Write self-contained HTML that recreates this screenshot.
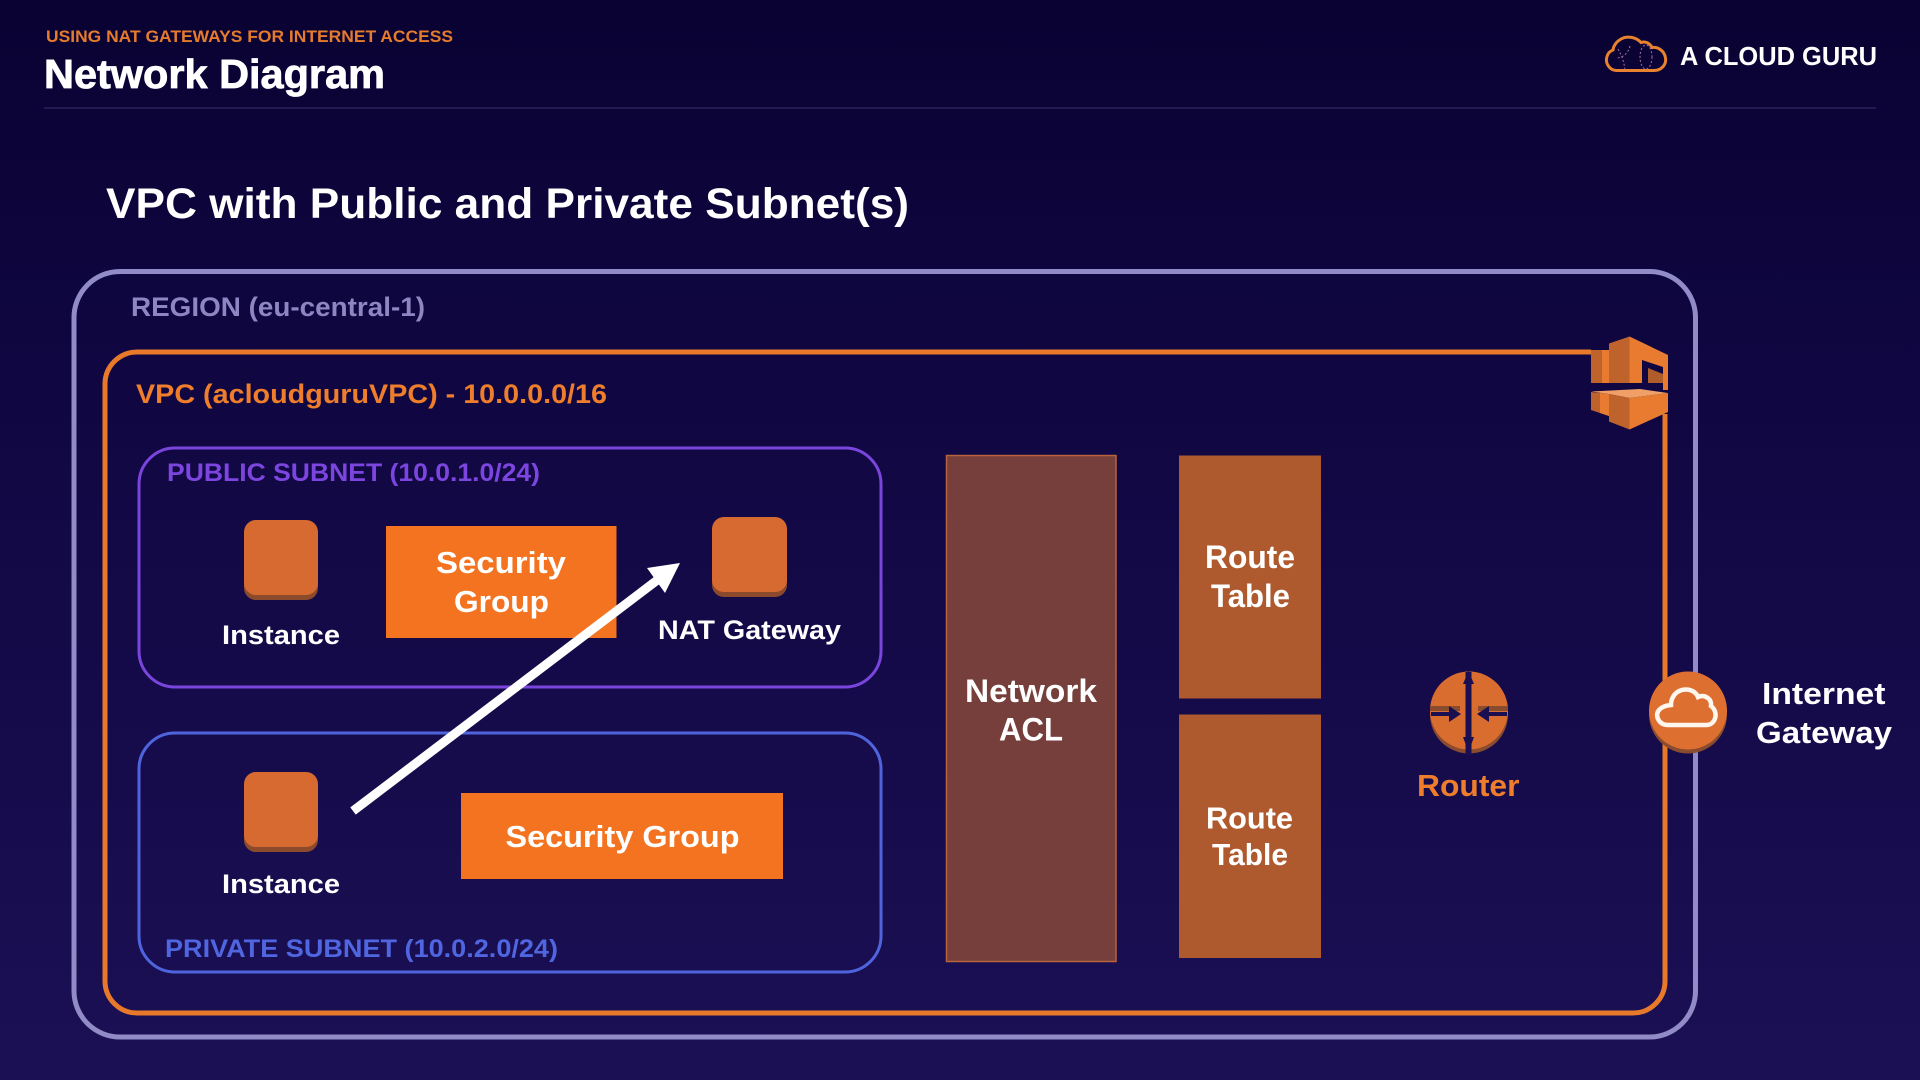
<!DOCTYPE html>
<html lang="en">
<head>
<meta charset="utf-8">
<title>Network Diagram</title>
<style>
html,body{margin:0;padding:0;width:1920px;height:1080px;overflow:hidden;background:#130a45}
svg{display:block;position:absolute;left:0;top:0}
text{font-family:"Liberation Sans",Arial,sans-serif;font-weight:700}
</style>
</head>
<body>
<svg width="1920" height="1080" viewBox="0 0 1920 1080" xmlns="http://www.w3.org/2000/svg">
<defs>
<linearGradient id="bg" gradientUnits="userSpaceOnUse" x1="0" y1="0" x2="0" y2="1080">
<stop offset="0" stop-color="#0a0232"/>
<stop offset="0.3" stop-color="#0f0640"/>
<stop offset="1" stop-color="#1b1054"/>
</linearGradient>
</defs>
<rect width="1920" height="1080" fill="url(#bg)"/>

<!-- header -->
<text x="46" y="42" font-size="16.5" fill="#e57b2c" textLength="407" lengthAdjust="spacingAndGlyphs">USING NAT GATEWAYS FOR INTERNET ACCESS</text>
<text x="44" y="88" font-size="41" fill="#ffffff" stroke="#ffffff" stroke-width="0.8" textLength="341" lengthAdjust="spacingAndGlyphs">Network Diagram</text>
<rect x="44" y="107" width="1832" height="2" fill="#221a52"/>
<path d="M1617 70.5H1654C1662 70.5 1666.500 64 1665.500 58C1664.500 51 1658 46.500 1652 47.500C1650 43 1645 41 1641 42.500C1636 37 1627 35.500 1621 39C1616 42 1613.500 46 1613 50C1607 52 1605 60 1607.500 64.500C1609.500 68.500 1612.500 70.500 1617 70.500Z" fill="none" stroke="#e8822e" stroke-width="3"/>
<g fill="none" stroke="#a8709a" stroke-width="1" stroke-dasharray="2 2">
<path d="M1618 49C1622 56 1624 62 1625 70M1630 46C1628 54 1622 58 1616 58"/>
<ellipse cx="1646" cy="57" rx="6" ry="12"/>
</g>
<text x="1680" y="65" font-size="26" fill="#ffffff" textLength="197" lengthAdjust="spacingAndGlyphs">A CLOUD GURU</text>

<text x="106" y="218" font-size="43" fill="#ffffff" textLength="803" lengthAdjust="spacingAndGlyphs">VPC with Public and Private Subnet(s)</text>

<!-- region -->
<rect x="74" y="271.500" width="1621.500" height="765.500" rx="46" fill="none" stroke="#918bc8" stroke-width="5"/>
<text x="131" y="316" font-size="27" fill="#8d86c2" textLength="294" lengthAdjust="spacingAndGlyphs">REGION (eu-central-1)</text>

<!-- vpc -->
<rect x="105" y="352" width="1560" height="661" rx="32" fill="none" stroke="#e8792a" stroke-width="5"/>
<text x="136" y="403" font-size="27" fill="#ee7d2c" textLength="471" lengthAdjust="spacingAndGlyphs">VPC (acloudguruVPC) - 10.0.0.0/16</text>

<!-- vpc icon -->
<g>
<rect x="1591" y="346" width="78" height="68" fill="url(#bg)"/>
<polygon points="1591,350 1609,350 1609,383 1591,383" fill="#bf632c"/>
<polygon points="1602,350 1609,350 1609,383 1602,383" fill="#e87b30"/>
<polygon points="1609,343.500 1629.500,336.500 1629.500,383 1609,383" fill="#bf632c"/>
<polygon points="1629.500,336.500 1668,355 1668,390 1663,390 1663,367 1642,360 1642,383 1629.500,383" fill="#e87b30"/>
<polygon points="1648,368 1663,374 1663,383 1648,383" fill="#b05d2b"/>
<polygon points="1591,391.500 1640,389 1668,393 1629.500,398 1609,394" fill="#f0a066"/>
<polygon points="1591,392 1609,394 1609,416 1600,413 1591,410" fill="#bf632c"/>
<polygon points="1600,393 1609,394 1609,416 1600,413" fill="#e87b30"/>
<polygon points="1609,394 1629.500,398 1629.500,429.500 1609,421.500" fill="#bf632c"/>
<polygon points="1629.500,398 1668,393 1668,412 1629.500,429.500" fill="#e87b30"/>
</g>

<!-- public subnet -->
<rect x="139" y="448" width="742" height="239" rx="36" fill="none" stroke="#7a45dc" stroke-width="3"/>
<text x="167" y="481" font-size="25" fill="#7d45df" textLength="373" lengthAdjust="spacingAndGlyphs">PUBLIC SUBNET (10.0.1.0/24)</text>

<rect x="244" y="525" width="74" height="75" rx="12" fill="#8c4a2c"/>
<rect x="244" y="520" width="74" height="75" rx="12" fill="#d66a30"/>
<text x="222" y="644" font-size="27" fill="#ffffff" textLength="118" lengthAdjust="spacingAndGlyphs">Instance</text>

<rect x="386" y="526" width="230.500" height="112" fill="#f37321"/>
<text x="436" y="573" font-size="31" fill="#ffffff" textLength="130" lengthAdjust="spacingAndGlyphs">Security</text>
<text x="454" y="612" font-size="31" fill="#ffffff" textLength="95" lengthAdjust="spacingAndGlyphs">Group</text>

<rect x="712" y="522" width="75" height="75" rx="12" fill="#8c4a2c"/>
<rect x="712" y="517" width="75" height="75" rx="12" fill="#d66a30"/>
<text x="658" y="639" font-size="27" fill="#ffffff" textLength="183" lengthAdjust="spacingAndGlyphs">NAT Gateway</text>

<!-- private subnet -->
<rect x="139" y="733" width="742" height="239" rx="36" fill="none" stroke="#4f64dc" stroke-width="3"/>
<text x="165" y="957" font-size="25" fill="#4f66e0" textLength="393" lengthAdjust="spacingAndGlyphs">PRIVATE SUBNET (10.0.2.0/24)</text>

<rect x="244" y="777" width="74" height="75" rx="12" fill="#8c4a2c"/>
<rect x="244" y="772" width="74" height="75" rx="12" fill="#d66a30"/>
<text x="222" y="893" font-size="27" fill="#ffffff" textLength="118" lengthAdjust="spacingAndGlyphs">Instance</text>

<rect x="461" y="793" width="322" height="86" fill="#f37321"/>
<text x="505.500" y="847" font-size="31" fill="#ffffff" textLength="234" lengthAdjust="spacingAndGlyphs">Security Group</text>

<!-- arrow -->
<line x1="353" y1="811" x2="660" y2="578" stroke="#ffffff" stroke-width="9"/>
<polygon points="680,563 647,568 665,593" fill="#ffffff"/>

<!-- network acl -->
<rect x="946.500" y="455.500" width="169.500" height="506" fill="#763f3b" stroke="#b8633c" stroke-width="1.500"/>
<text x="965" y="702" font-size="32" fill="#ffffff" textLength="132" lengthAdjust="spacingAndGlyphs">Network</text>
<text x="999" y="740.500" font-size="32" fill="#ffffff" textLength="64" lengthAdjust="spacingAndGlyphs">ACL</text>

<!-- route tables -->
<rect x="1179" y="455.500" width="142" height="243" fill="#af5a2e"/>
<text x="1205" y="568" font-size="32" fill="#ffffff" textLength="90" lengthAdjust="spacingAndGlyphs">Route</text>
<text x="1211" y="607" font-size="32" fill="#ffffff" textLength="79" lengthAdjust="spacingAndGlyphs">Table</text>
<rect x="1179" y="714.500" width="142" height="243.500" fill="#af5a2e"/>
<text x="1206" y="828.500" font-size="31" fill="#ffffff" textLength="87" lengthAdjust="spacingAndGlyphs">Route</text>
<text x="1212" y="865" font-size="31" fill="#ffffff" textLength="76" lengthAdjust="spacingAndGlyphs">Table</text>

<!-- router -->
<circle cx="1469" cy="714.500" r="39" fill="#8a4c2e"/>
<circle cx="1469" cy="710.500" r="39" fill="#d96c2f"/>
<rect x="1430" y="706" width="30" height="5" fill="#8a4c2e"/>
<rect x="1478" y="706" width="30" height="5" fill="#8a4c2e"/>
<rect x="1431" y="712" width="22" height="4" fill="#1a0f50"/>
<polygon points="1449,706 1461,714 1449,722" fill="#1a0f50"/>
<rect x="1485" y="712" width="22" height="4" fill="#1a0f50"/>
<polygon points="1489,706 1477,714 1489,722" fill="#1a0f50"/>
<rect x="1465.500" y="672" width="6" height="83" fill="#1a0f50"/>
<polygon points="1468.500,671 1463,684 1474,684" fill="#1a0f50"/>
<polygon points="1468.500,752 1463,737 1474,737" fill="#1a0f50"/>
<text x="1417" y="796" font-size="31" fill="#ee7d2c" textLength="102.500" lengthAdjust="spacingAndGlyphs">Router</text>

<!-- internet gateway -->
<circle cx="1688" cy="714.500" r="39" fill="#8a4c2e"/>
<circle cx="1688" cy="710.500" r="39" fill="#dd7031"/>
<path d="M1668 725H1706C1716 725 1719 712 1711 706C1712 699 1705 694 1698 697C1694 687 1678 687 1673 697C1671 700 1671 703 1671 705C1660 706 1655 712 1658 719C1660 723 1663 725 1668 725Z" fill="none" stroke="#fff6ee" stroke-width="4.500"/>
<text x="1762" y="704" font-size="31" fill="#ffffff" textLength="123.500" lengthAdjust="spacingAndGlyphs">Internet</text>
<text x="1756" y="743" font-size="31" fill="#ffffff" textLength="136" lengthAdjust="spacingAndGlyphs">Gateway</text>
</svg>
</body>
</html>
